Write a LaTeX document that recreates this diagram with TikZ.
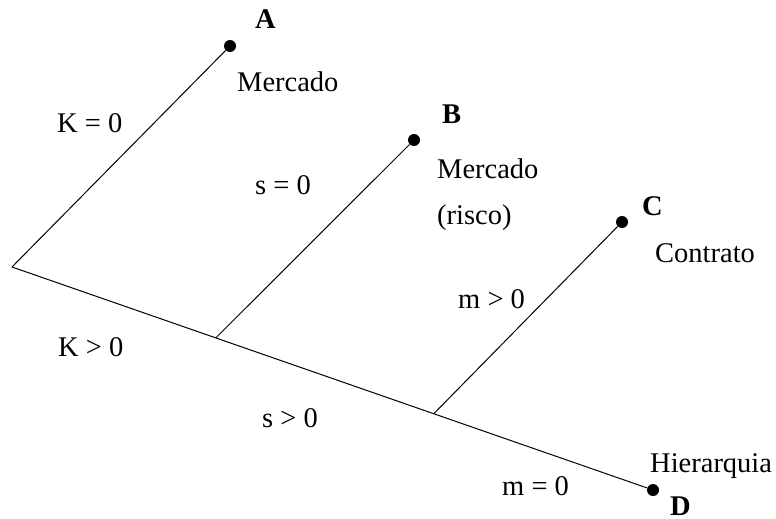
\documentclass[tikz,border=0pt]{standalone}
\usepackage{fontspec}
\setmainfont{Liberation Serif}
\usetikzlibrary{calc}
\begin{document}
\begin{tikzpicture}[x=1pt,y=-1pt,
  branch/.style={line width=1pt},
  leaf/.style={circle,fill=black,inner sep=0pt,minimum size=12pt},
  lbl/.style={inner sep=0pt,anchor=base west,font=\fontsize{28.5}{34}\selectfont},
  tag/.style={inner sep=0pt,anchor=base west,font=\fontsize{28.5}{34}\selectfont\bfseries}]
\useasboundingbox (0,0) rectangle (776,519);
\coordinate (O) at (12,267);
\node[leaf] (A) at (230,46) {};
\node[leaf] (B) at (414,140) {};
\node[leaf] (C) at (622,222) {};
\node[leaf] (D) at (653,490) {};
\coordinate (jB) at ($(O)!0.318!(653,490)$);
\coordinate (jC) at ($(O)!0.658!(653,490)$);
\draw[branch] (O) -- (A);
\draw[branch] (O) -- (D);
\draw[branch] (jB) -- (B);
\draw[branch] (jC) -- (C);
% letters
\node[tag] (tA) at (255,29) {A};
\node[tag] (tB) at (442,123) {B};
\node[tag] (tC) at (642,215) {C};
\node[tag] (tD) at (670,515) {D};
% outcome labels
\node[lbl] (lA) at (237,91) {Mercado};
\node[lbl] (lB1) at (437,178) {Mercado};
\node[lbl] (lB2) at (437,224) {(risco)};
\node[lbl] (lC) at (655,262) {Contrato};
\node[lbl] (lD) at (650,472) {Hierarquia};
% branch labels
\node[lbl] (k0) at (57,132) {K = 0};
\node[lbl] (s0) at (255,194) {s = 0};
\node[lbl] (mg) at (458,308) {m > 0};
\node[lbl] (kg) at (58,356) {K > 0};
\node[lbl] (sg) at (262,427) {s > 0};
\node[lbl] (m0) at (502,495) {m = 0};
\end{tikzpicture}
\end{document}
